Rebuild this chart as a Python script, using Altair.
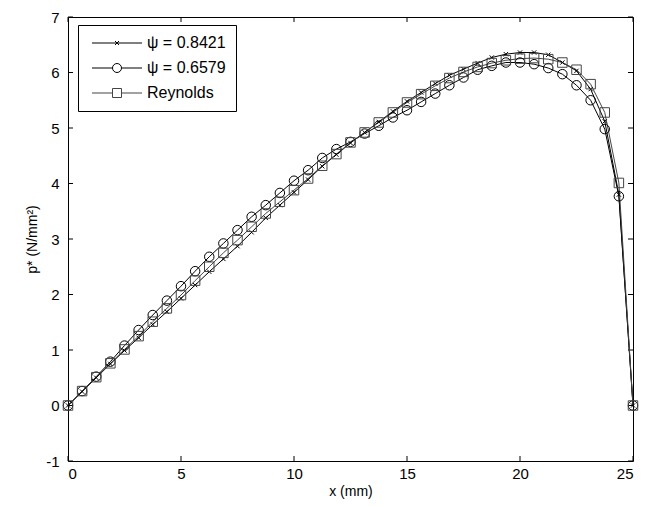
import altair as alt
import pandas as pd

# ---- data ----
x_mm = [0, 0.625, 1.25, 1.875, 2.5, 3.125, 3.75, 4.375, 5, 5.625, 6.25, 6.875, 7.5,
        8.125, 8.75, 9.375, 10, 10.625, 11.25, 11.875, 12.5, 13.125, 13.75, 14.375,
        15, 15.625, 16.25, 16.875, 17.5, 18.125, 18.75, 19.375, 20, 20.625, 21.25,
        21.875, 22.5, 23.125, 23.75, 24.375, 25]

p_psi_08421 = [0, 0.25, 0.50, 0.75, 0.99, 1.22, 1.46, 1.69, 1.93, 2.17, 2.41, 2.64, 2.87,
               3.12, 3.38, 3.61, 3.84, 4.07, 4.31, 4.52, 4.73, 4.92, 5.11, 5.30,
               5.48, 5.64, 5.80, 5.95, 6.06, 6.17, 6.27, 6.33, 6.36, 6.36, 6.32,
               6.18, 6.03, 5.70, 5.12, 3.80, 0]

p_psi_06579 = [0, 0.26, 0.52, 0.79, 1.08, 1.36, 1.63, 1.89, 2.15, 2.42, 2.68, 2.92, 3.16,
               3.40, 3.61, 3.83, 4.05, 4.24, 4.46, 4.62, 4.75, 4.90, 5.04, 5.19,
               5.32, 5.47, 5.62, 5.77, 5.91, 6.05, 6.12, 6.18, 6.18, 6.15, 6.08,
               5.97, 5.77, 5.50, 4.98, 3.77, 0]

p_reynolds = [0, 0.26, 0.51, 0.76, 1.01, 1.25, 1.51, 1.75, 1.99, 2.25, 2.50, 2.75, 2.98,
              3.22, 3.46, 3.67, 3.88, 4.09, 4.32, 4.53, 4.74, 4.92, 5.10, 5.28,
              5.46, 5.61, 5.76, 5.90, 6.01, 6.10, 6.17, 6.22, 6.25, 6.26, 6.24,
              6.18, 6.05, 5.79, 5.28, 4.01, 0]

series_names = ["ψ = 0.8421", "ψ = 0.6579", "Reynolds"]
series_colors = ["#000000", "#000000", "#444444"]
x_ticks = [0, 5, 10, 15, 20, 25]
y_ticks = [-1, 0, 1, 2, 3, 4, 5, 6, 7]

rows = []
for name, vals in zip(series_names, [p_psi_08421, p_psi_06579, p_reynolds]):
    for xv, yv in zip(x_mm, vals):
        rows.append({"series": name, "x": xv, "p": yv})
df = pd.DataFrame(rows)

W, H = 565, 444
FONT = "Liberation Sans"
TK = 5

marker_paths = ["M-0.45,-0.45L0.45,0.45M-0.45,0.45L0.45,-0.45", "circle", "square"]
legend_paths = [
    "M-0.8,0L9.2,0M3.8,-0.4L4.6,0.4M3.8,0.4L4.6,-0.4",
    "M-0.8,0L3.3,0M5.1,0L9.2,0M5.1,0C5.1,0.497 4.697,0.9 4.2,0.9C3.703,0.9 3.3,0.497 3.3,0"
    "C3.3,-0.497 3.703,-0.9 4.2,-0.9C4.697,-0.9 5.1,-0.497 5.1,0Z",
    "M-0.8,0L3.3,0M5.1,0L9.2,0M3.3,-0.9L5.1,-0.9L5.1,0.9L3.3,0.9Z",
]

minus_fix = "replace(datum.label, '\u2212', '-')"

xscale = alt.Scale(domain=[0, 25], nice=False, zero=False)
yscale = alt.Scale(domain=[-1, 7], nice=False, zero=False)
xaxis = alt.Axis(values=x_ticks, grid=False, ticks=False, domain=False, labelFont=FONT,
                 labelFontSize=15, labelColor="black", labelPadding=5, title="x (mm)",
                 titleFont=FONT, titleFontSize=14, titleFontWeight="normal",
                 titleColor="black", titlePadding=3)
yaxis = alt.Axis(values=y_ticks, grid=False, ticks=False, domain=False, labelFont=FONT,
                 labelFontSize=15, labelColor="black", labelPadding=9, title="p* (N/mm²)",
                 titleFont=FONT, titleFontSize=14, titleFontWeight="normal",
                 titleColor="black", titlePadding=6, labelExpr=minus_fix)

X = alt.X("x:Q", scale=xscale, axis=xaxis)
Y = alt.Y("p:Q", scale=yscale, axis=yaxis)
col_scale = alt.Scale(domain=series_names, range=series_colors)

lines = alt.Chart(df).mark_line(strokeWidth=1).encode(
    x=X, y=Y,
    color=alt.Color("series:N", scale=col_scale, legend=None),
)

points = alt.Chart(df).mark_point(filled=False, size=90, strokeWidth=1, opacity=1).encode(
    x=X, y=Y,
    color=alt.Color("series:N", scale=col_scale, legend=None),
    shape=alt.Shape("series:N", scale=alt.Scale(domain=series_names, range=marker_paths),
                    legend=None),
)

leg = dict(title=None, orient="none", legendX=10, legendY=8, padding=10,
           strokeColor="black", fillColor="white", symbolSize=100, symbolStrokeWidth=1,
           labelFont=FONT, labelFontSize=16, labelColor="black", labelOffset=43,
           rowPadding=9, cornerRadius=0, symbolFillColor="transparent")

legend_layer = alt.Chart(df).transform_filter("false").mark_point(
    filled=False, strokeWidth=1, opacity=1).encode(
    x=X, y=Y,
    color=alt.Color("series:N", scale=col_scale, legend=alt.Legend(**leg)),
    shape=alt.Shape("series:N", scale=alt.Scale(domain=series_names, range=legend_paths),
                    legend=alt.Legend(**leg)),
)

xt = pd.DataFrame({"x": x_ticks})
yt = pd.DataFrame({"p": y_ticks})
tick_bottom = alt.Chart(xt).mark_rule(color="black", strokeWidth=1).encode(
    x=X, y=alt.value(H), y2=alt.value(H - TK))
tick_top = alt.Chart(xt).mark_rule(color="black", strokeWidth=1).encode(
    x=X, y=alt.value(0), y2=alt.value(TK))
tick_left = alt.Chart(yt).mark_rule(color="black", strokeWidth=1).encode(
    y=Y, x=alt.value(0), x2=alt.value(TK))
tick_right = alt.Chart(yt).mark_rule(color="black", strokeWidth=1).encode(
    y=Y, x=alt.value(W), x2=alt.value(W - TK))

chart = alt.layer(
    tick_bottom, tick_top, tick_left, tick_right, lines, points, legend_layer
).resolve_scale(
    shape="independent", color="independent"
).properties(
    width=W, height=H,
    autosize=alt.AutoSizeParams(type="none"),
    padding={"left": 60, "top": 9, "right": 13, "bottom": 38},
    background="white",
).configure_view(stroke="black", strokeWidth=1)

chart.save("out.html", embed_options={"renderer": "svg", "actions": False})
